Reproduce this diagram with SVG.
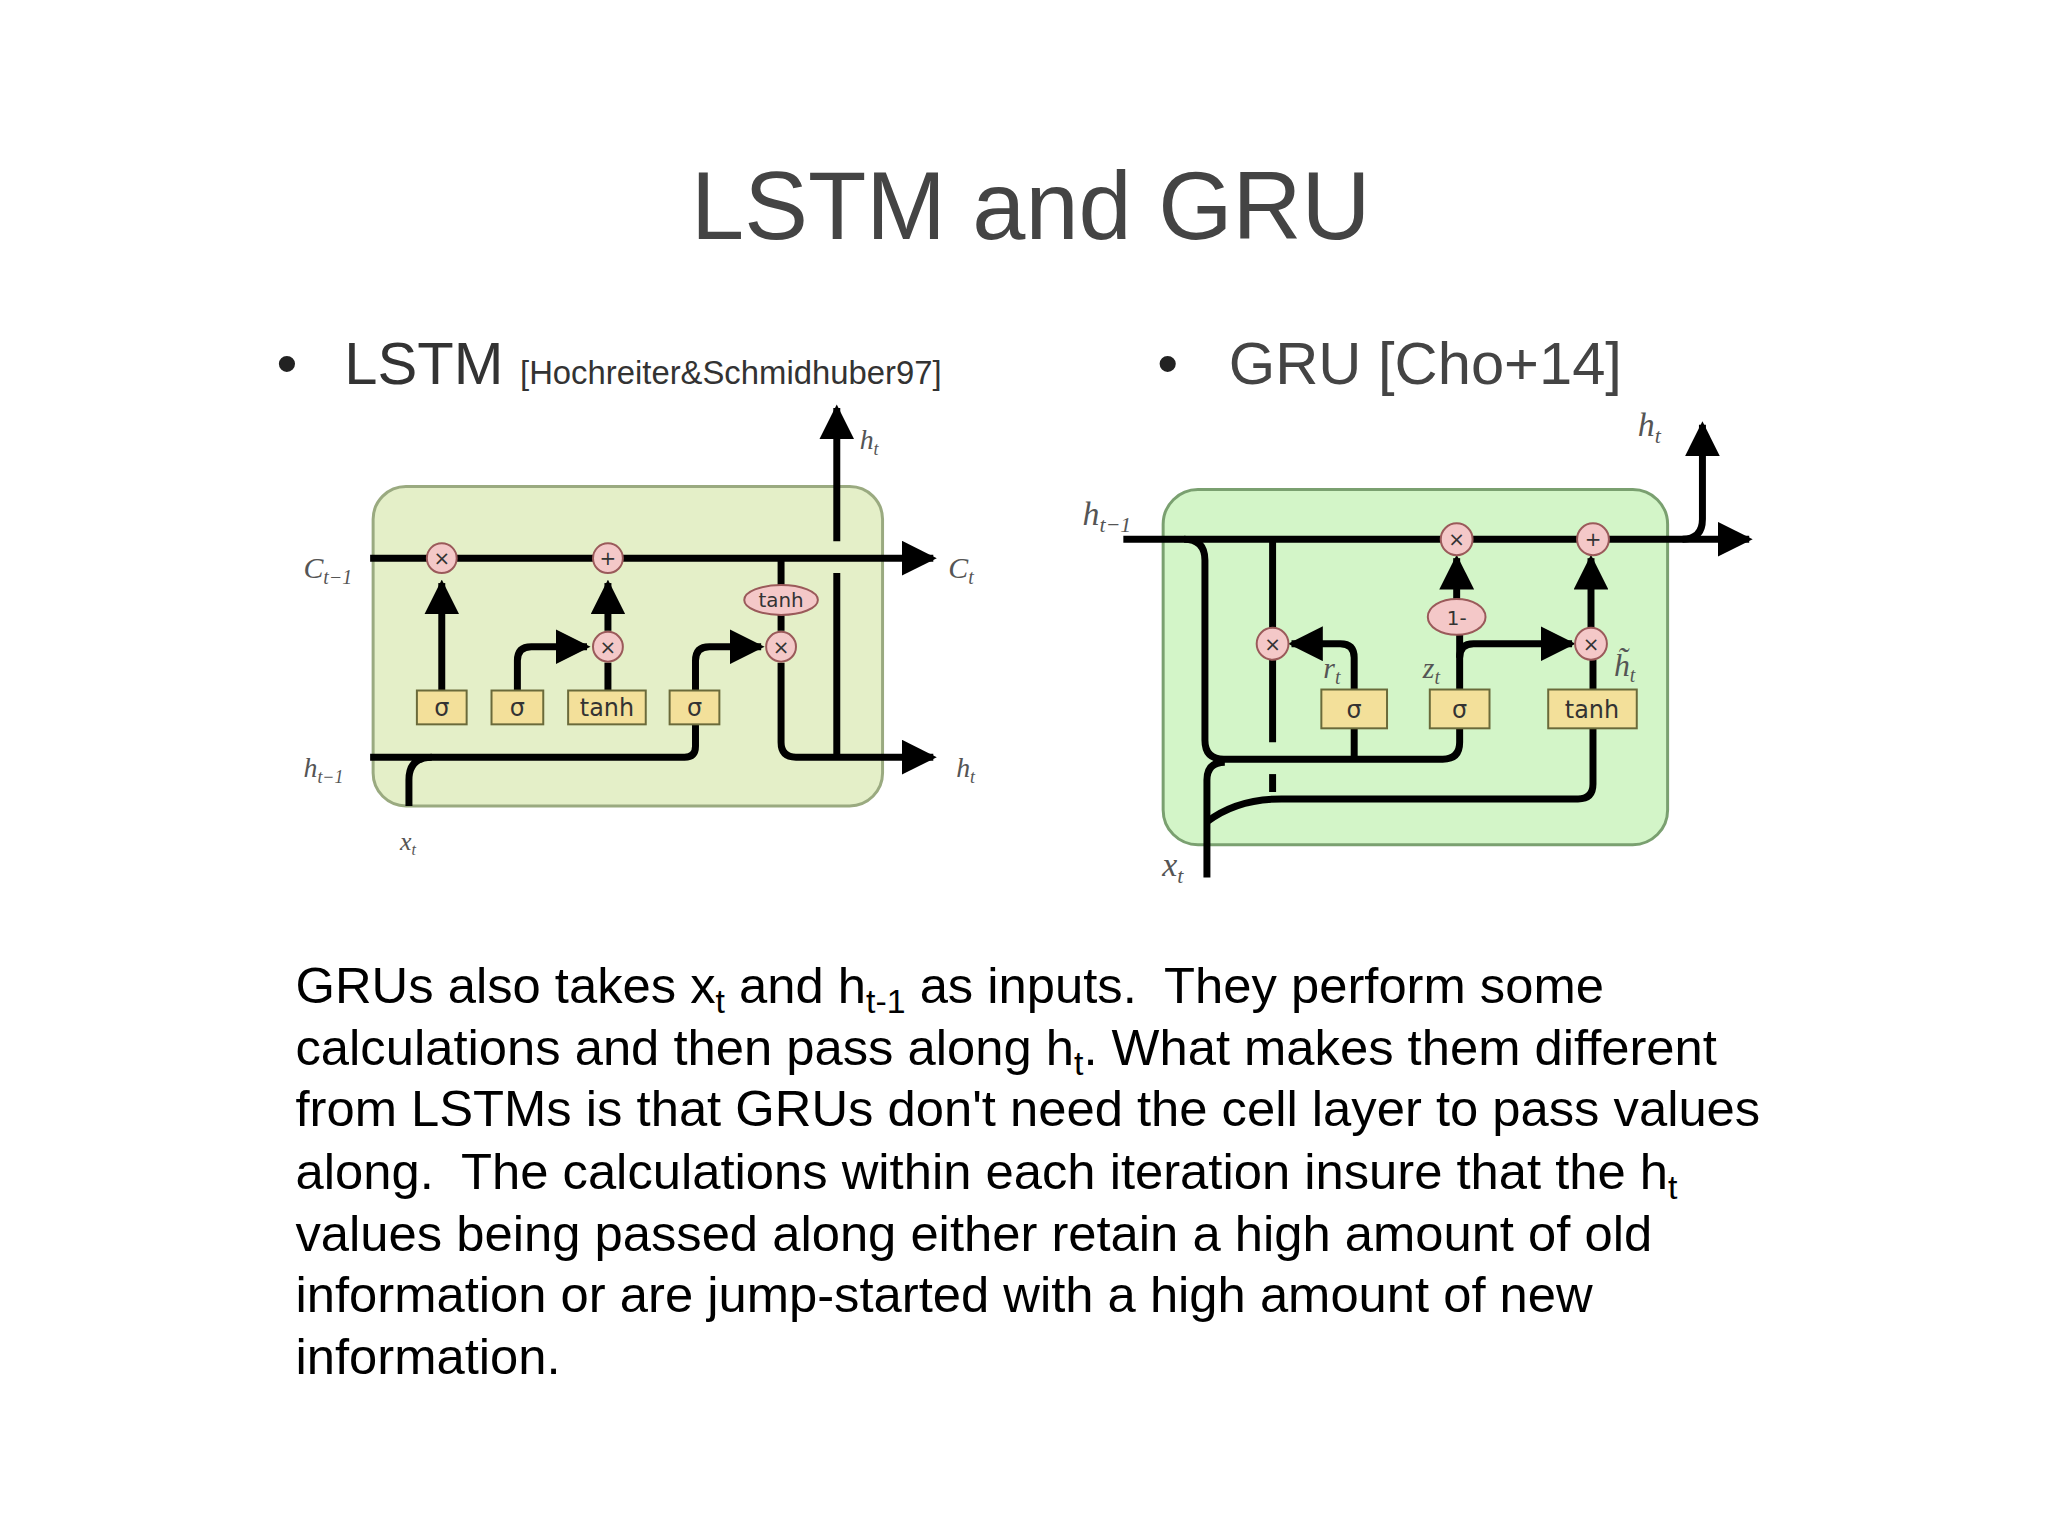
<svg xmlns="http://www.w3.org/2000/svg" width="2048" height="1536" viewBox="0 0 2048 1536">
<style>
.t{font-family:"Liberation Sans",Arial,sans-serif;fill:#444}
.p{font-family:"Liberation Sans",Arial,sans-serif;fill:#000;font-size:51px;white-space:pre}
.m{font-family:"Liberation Serif","Times New Roman",serif;font-style:italic;fill:#555}
.w{fill:none;stroke:#000;stroke-width:7;stroke-linejoin:round}
.op{fill:#f4c8c8;stroke:#9a5a5a;stroke-width:2}
.bx{fill:#f3e09a;stroke:#6a6a3a;stroke-width:2}
.bt{font-family:"DejaVu Sans",sans-serif;font-size:24px;fill:#333;text-anchor:middle}
.ot{font-family:"DejaVu Sans",sans-serif;font-size:20px;fill:#333;text-anchor:middle}
</style>
<defs>
<marker id="a" viewBox="0 0 10 10" refX="9" refY="5" markerWidth="5" markerHeight="5" orient="auto" markerUnits="strokeWidth"><path d="M0,0L10,5L0,10z" fill="#000"/></marker>
</defs>
<rect width="2048" height="1536" fill="#fff"/>
<g transform="translate(-2,-4) scale(0.995)">
<text class="t" x="1038" y="244" font-size="96" text-anchor="middle">LSTM and GRU</text>
<text class="t" x="280" y="390" font-size="60" style="fill:#222">•</text>
<text class="t" x="348" y="390" font-size="60" style="fill:#333">LSTM <tspan font-size="33">[Hochreiter&amp;Schmidhuber97]</tspan></text>
<text class="t" x="1165" y="390" font-size="60" style="fill:#222">•</text>
<text class="t" x="1237" y="390" font-size="60">GRU [Cho+14]</text>

<g id="lstm">
<rect x="377" y="493" width="512" height="321" rx="33" fill="#e4efc8" stroke="#9aaa80" stroke-width="3"/>
<g id="lstm-connectors">
<path class="w" d="M374,565H940" marker-end="url(#a)"/>
<path class="w" d="M374,765H690q11,0 11,-11V732"/>
<path class="w" d="M413,814V788q0,-23 23,-23"/>
<path class="w" d="M446,698V590" marker-end="url(#a)"/>
<path class="w" d="M522,698V668q0,-14 14,-14H592" marker-end="url(#a)"/>
<path class="w" d="M613,698V670"/>
<path class="w" d="M613,638V590" marker-end="url(#a)"/>
<path class="w" d="M701,698V668q0,-14 14,-14H767" marker-end="url(#a)"/>
<path class="w" d="M787,565V592"/>
<path class="w" d="M787,622V638"/>
<path class="w" d="M787,670V750q0,15 15,15H940" marker-end="url(#a)"/>
<path class="w" d="M843,765V580"/>
<path class="w" d="M843,548V414" marker-end="url(#a)"/>
</g>
<circle class="op" cx="446" cy="565" r="15"/><text class="ot" x="446" y="572">×</text>
<circle class="op" cx="613" cy="565" r="15"/><text class="ot" x="613" y="572">+</text>
<circle class="op" cx="613" cy="654" r="15"/><text class="ot" x="613" y="661">×</text>
<circle class="op" cx="787" cy="654" r="15"/><text class="ot" x="787" y="661">×</text>
<ellipse class="op" cx="787" cy="607" rx="37" ry="15"/><text class="ot" x="787" y="614">tanh</text>
<rect class="bx" x="421" y="698" width="50" height="34"/><text class="bt" x="446" y="724">σ</text>
<rect class="bx" x="496" y="698" width="52" height="34"/><text class="bt" x="522" y="724">σ</text>
<rect class="bx" x="573" y="698" width="78" height="34"/><text class="bt" x="612" y="724">tanh</text>
<rect class="bx" x="675" y="698" width="50" height="34"/><text class="bt" x="700" y="724">σ</text>
<text class="m" x="307" y="585" font-size="30">C<tspan font-size="20" dy="6">t−1</tspan></text>
<text class="m" x="955" y="585" font-size="30">C<tspan font-size="20" dy="6">t</tspan></text>
<text class="m" x="307" y="785" font-size="28">h<tspan font-size="18" dy="6">t−1</tspan></text>
<text class="m" x="963" y="785" font-size="28">h<tspan font-size="18" dy="6">t</tspan></text>
<text class="m" x="866" y="455" font-size="28">h<tspan font-size="18" dy="6">t</tspan></text>
<text class="m" x="404" y="858" font-size="26">x<tspan font-size="16" dy="5">t</tspan></text>
</g>

<g id="gru">
<rect x="1171" y="496" width="507" height="357" rx="35" fill="#d3f5c8" stroke="#7aa070" stroke-width="3"/>
<g id="gru-connectors">
<path class="w" d="M1131,546H1760" marker-end="url(#a)"/>
<path class="w" d="M1693,546q20,0 20,-20V431" marker-end="url(#a)"/>
<path class="w" d="M1192,546q21,0 21,21V748q0,19 19,19H1452q17,0 17,-17V736"/>
<path class="w" d="M1281,546V636"/>
<path class="w" d="M1281,666V750"/>
<path class="w" d="M1281,782V800"/>
<path class="w" d="M1215,886V788q0,-18 18,-18"/>
<path class="w" d="M1215,830q30,-23 75,-23H1588q15,0 15,-15V736"/>
<path class="w" d="M1363,767V736"/>
<path class="w" d="M1363,697V665q0,-14 -14,-14H1300" marker-end="url(#a)"/>
<path class="w" d="M1469,697V642"/>
<path class="w" d="M1469,665q0,-14 14,-14H1582" marker-end="url(#a)"/>
<path class="w" d="M1466,606V565" marker-end="url(#a)"/>
<path class="w" d="M1603,697V667"/>
<path class="w" d="M1601,635V565" marker-end="url(#a)"/>
</g>
<circle class="op" cx="1466" cy="546" r="16"/><text class="ot" x="1466" y="553">×</text>
<circle class="op" cx="1603" cy="546" r="16"/><text class="ot" x="1603" y="553">+</text>
<circle class="op" cx="1281" cy="651" r="16"/><text class="ot" x="1281" y="658">×</text>
<circle class="op" cx="1601" cy="651" r="16"/><text class="ot" x="1601" y="658">×</text>
<ellipse class="op" cx="1466" cy="624" rx="29" ry="18"/><text class="ot" x="1466" y="632">1-</text>
<rect class="bx" x="1330" y="697" width="66" height="39"/><text class="bt" x="1363" y="726">σ</text>
<rect class="bx" x="1439" y="697" width="60" height="39"/><text class="bt" x="1469" y="726">σ</text>
<rect class="bx" x="1558" y="697" width="89" height="39"/><text class="bt" x="1602" y="726">tanh</text>
<text class="m" x="1332" y="685" font-size="30">r<tspan font-size="20" dy="6">t</tspan></text>
<text class="m" x="1432" y="685" font-size="30">z<tspan font-size="20" dy="6">t</tspan></text>
<text class="m" x="1624" y="683" font-size="32">h̃<tspan font-size="20" dy="6">t</tspan></text>
<text class="m" x="1090" y="532" font-size="34">h<tspan font-size="22" dy="7">t−1</tspan></text>
<text class="m" x="1648" y="442" font-size="34">h<tspan font-size="22" dy="7">t</tspan></text>
<text class="m" x="1170" y="884" font-size="34">x<tspan font-size="22" dy="7">t</tspan></text>
</g>

<g id="text">
<text class="p" x="299" y="1012">GRUs also takes x<tspan font-size="34" dy="10">t</tspan><tspan dy="-10"> and h</tspan><tspan font-size="34" dy="10">t-1</tspan><tspan dy="-10"> as inputs.  They perform some</tspan></text>
<text class="p" x="299" y="1074">calculations and then pass along h<tspan font-size="34" dy="10">t</tspan><tspan dy="-10">. What makes them different</tspan></text>
<text class="p" x="299" y="1136">from LSTMs is that GRUs don't need the cell layer to pass values</text>
<text class="p" x="299" y="1199">along.  The calculations within each iteration insure that the h<tspan font-size="34" dy="10">t</tspan></text>
<text class="p" x="299" y="1261">values being passed along either retain a high amount of old</text>
<text class="p" x="299" y="1323">information or are jump-started with a high amount of new</text>
<text class="p" x="299" y="1385">information.</text>
</g>
</g>
</svg>
